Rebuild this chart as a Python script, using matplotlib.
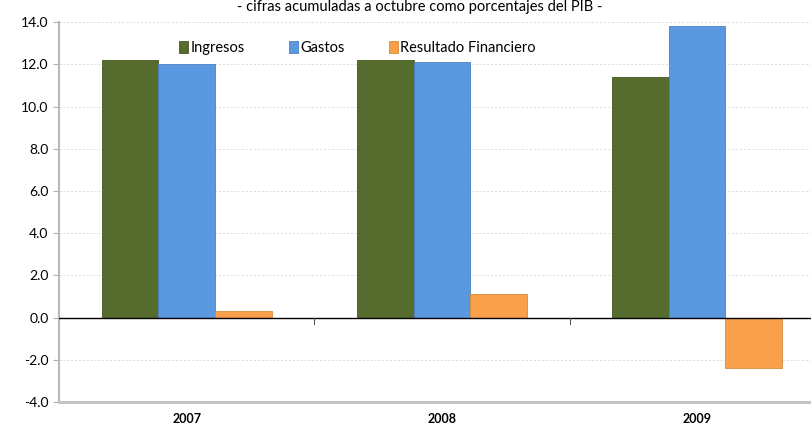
import matplotlib.pyplot as plt
import numpy as np

plt.rcParams['font.family'] = ['Lato', 'DejaVu Sans']

# data, % of GDP (cumulative to October)
years = ['2007', '2008', '2009']
ingresos = [12.2, 12.2, 11.4]
gastos = [12.0, 12.1, 13.8]
resultado = [0.3, 1.1, -2.4]
series_names = ['Ingresos', 'Gastos', 'Resultado Financiero']
colors = ['#566b2e', '#5a98df', '#f9a04b']
edge_colors = ['#45561f', '#4a80c0', '#d88a3c']

fig = plt.figure(figsize=(8.12, 4.34), dpi=100, facecolor='white')
ax = fig.add_axes([0.0727, 0.0737, 0.943, 0.875])

x = np.arange(len(years))
w = 0.222
for i, vals in enumerate([ingresos, gastos, resultado]):
    ax.bar(x + (i - 1) * w, vals, width=w, color=colors[i], edgecolor=edge_colors[i],
           linewidth=0.6, label=series_names[i], zorder=3)

ax.set_xlim(-0.5, 2.5)
ax.set_ylim(-4, 14)
ax.set_yticks(np.arange(-4, 15, 2))
ax.set_yticklabels([f'{v:.1f}' for v in np.arange(-4, 15, 2)])
ax.yaxis.grid(True, color='#dcdcdc', linestyle=(0, (2, 2)), linewidth=0.7, zorder=0)
ax.axhline(0, color='black', linewidth=1.0, zorder=4)

# category boundary ticks on the zero line
for b in [0.5, 1.5]:
    ax.plot([b, b], [0, -0.3], color='#555555', linewidth=0.8, zorder=4)

ax.set_xticks(x)
ax.set_xticklabels(years, fontweight='bold', fontsize=9)
ax.tick_params(axis='x', length=0, pad=8)
ax.tick_params(axis='y', length=4, color='#b0b0b0', labelsize=10)

for s in ['top', 'right']:
    ax.spines[s].set_visible(False)
ax.spines['left'].set_color('#b8b8b8')
ax.spines['left'].set_linewidth(1.5)
ax.spines['bottom'].set_color('#c0c0c0')
ax.spines['bottom'].set_linewidth(2)

ax.legend(loc='upper left', bbox_to_anchor=(0.14, 0.985), ncol=3, frameon=False,
          fontsize=10.5, handlelength=0.6, handleheight=0.8, handletextpad=0.2,
          columnspacing=3.0)

fig.text(0.517, 0.999, '- cifras acumuladas a octubre como porcentajes del PIB -',
         ha='center', va='top', fontsize=10.5)

fig.savefig('out.png', dpi=100)
